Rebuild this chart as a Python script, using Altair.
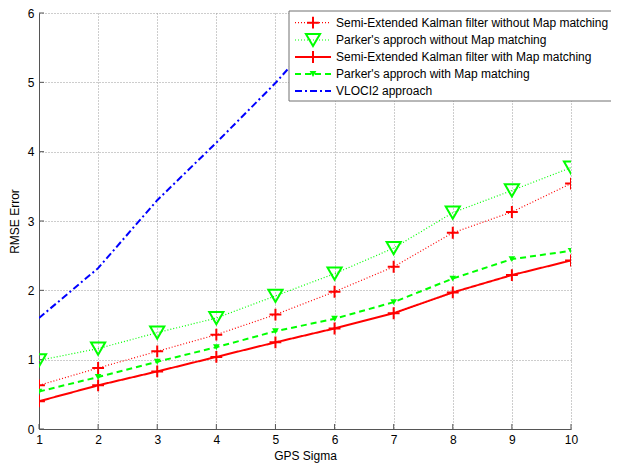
import altair as alt
import pandas as pd

sigma = [1, 2, 3, 4, 5, 6, 7, 8, 9, 10]
sekf_no_mm = [0.63, 0.88, 1.12, 1.36, 1.65, 1.98, 2.34, 2.83, 3.13, 3.54]
parker_no_mm = [0.99, 1.16, 1.39, 1.60, 1.92, 2.24, 2.61, 3.12, 3.44, 3.77]
sekf_mm = [0.40, 0.63, 0.83, 1.04, 1.25, 1.45, 1.67, 1.97, 2.22, 2.43]
parker_mm = [0.54, 0.75, 0.97, 1.18, 1.41, 1.59, 1.83, 2.17, 2.45, 2.57]
vloci2_sigma = [1, 2, 3, 4, 5, 6, 7]
vloci2 = [1.60, 2.32, 3.30, 4.13, 4.99, 5.95, 6.90]

names = [
    "Semi-Extended Kalman filter without Map matching",
    "Parker's approch without Map matching",
    "Semi-Extended Kalman filter with Map matching",
    "Parker's approch with Map matching",
    "VLOCI2 approach",
]
x_ticks = sigma
y_ticks = [0, 1, 2, 3, 4, 5, 6]

FONT = "Liberation Sans"
FS = 12
PLUS = "M-1,0L1,0M0,-1L0,1"

W, H = 532, 416

xs = alt.Scale(domain=[1, 10], nice=False)
ys = alt.Scale(domain=[0, 6], nice=False)

series = [
    dict(x=sigma, y=sekf_no_mm, color="#ff0000", width=1.2, dash=[1, 2], shape=PLUS, size=140, filled=False, mw=2),
    dict(x=sigma, y=parker_no_mm, color="#00ff00", width=1.2, dash=[1, 2], shape="triangle-down", size=200, filled=False, mw=2),
    dict(x=sigma, y=sekf_mm, color="#ff0000", width=2, dash=[1, 0], shape=PLUS, size=140, filled=False, mw=2),
    dict(x=sigma, y=parker_mm, color="#00ff00", width=2, dash=[6, 4], shape="triangle-down", size=45, filled=True, mw=1.5),
    dict(x=vloci2_sigma, y=vloci2, color="#0000ff", width=2, dash=[7, 3, 2, 3], shape=None, size=0, filled=False, mw=0),
]

common = dict(tickSize=0, grid=True, gridDash=[1, 2], gridColor="#9a9a9a", domainColor="#555555",
              labelFont=FONT, labelFontSize=FS, titleFont=FONT, titleFontSize=FS, labelFlush=False,
              titleFontWeight="normal", labelColor="black", titleColor="black", format="d")
axis_x = alt.Axis(values=x_ticks, labelPadding=5, title="GPS Sigma", titlePadding=5, **common)
axis_y = alt.Axis(values=y_ticks, labelPadding=5, title="RMSE Error", titlePadding=6, **common)

layers = []

frame = alt.Chart(pd.DataFrame({"sigma": [1, 10], "v": [0, 6]})).mark_point(opacity=0).encode(
    x=alt.X("sigma:Q", scale=xs, axis=axis_x),
    y=alt.Y("v:Q", scale=ys, axis=axis_y),
)
layers.append(frame)

xt = alt.Chart(pd.DataFrame({"t": x_ticks})).mark_rule(color="#555555", strokeWidth=1).encode(
    x=alt.X("t:Q", scale=xs), y=alt.value(H - 5), y2=alt.value(H))
yt = alt.Chart(pd.DataFrame({"t": y_ticks})).mark_rule(color="#555555", strokeWidth=1).encode(
    y=alt.Y("t:Q", scale=ys), x=alt.value(0), x2=alt.value(5))
layers += [xt, yt]

for name, s in zip(names, series):
    df = pd.DataFrame({"sigma": s["x"], "v": s["y"], "name": name})
    base = alt.Chart(df)
    layers.append(base.mark_line(color=s["color"], strokeWidth=s["width"], strokeDash=s["dash"], clip=True).encode(
        x=alt.X("sigma:Q", scale=xs), y=alt.Y("v:Q", scale=ys)))
    if s["shape"]:
        layers.append(base.mark_point(shape=s["shape"], size=s["size"], filled=s["filled"], color=s["color"],
                                      strokeWidth=s["mw"], opacity=1, clip=True).encode(
            x=alt.X("sigma:Q", scale=xs), y=alt.Y("v:Q", scale=ys)))

box = alt.Chart(pd.DataFrame({"a": [0]})).mark_rect(fill="white", stroke="#707070", strokeWidth=1).encode(
    x=alt.value(250), x2=alt.value(590), y=alt.value(-2), y2=alt.value(88))
layers.append(box)

row_y = [9.7, 27, 44, 61, 78]
for name, s, ry in zip(names, series, row_y):
    ldf = pd.DataFrame({"name": [name]})
    lb = alt.Chart(ldf)
    layers.append(lb.mark_rule(color=s["color"], strokeWidth=s["width"], strokeDash=s["dash"]).encode(
        x=alt.value(256), x2=alt.value(292), y=alt.value(ry)))
    if s["shape"]:
        layers.append(lb.mark_point(shape=s["shape"], size=s["size"], filled=s["filled"], color=s["color"],
                                    strokeWidth=s["mw"], opacity=1).encode(
            x=alt.value(274), y=alt.value(ry)))
    layers.append(lb.mark_text(align="left", baseline="middle", font=FONT, fontSize=FS, color="black").encode(
        x=alt.value(297), y=alt.value(ry), text="name:N"))

chart = alt.layer(*layers).properties(
    width=W, height=H,
    autosize=alt.AutoSizeParams(type="none"),
    padding={"left": 31, "top": 5, "right": 40, "bottom": 34},
).configure_view(stroke=None)

chart.save("out.html", embed_options={"renderer": "svg", "actions": False})
